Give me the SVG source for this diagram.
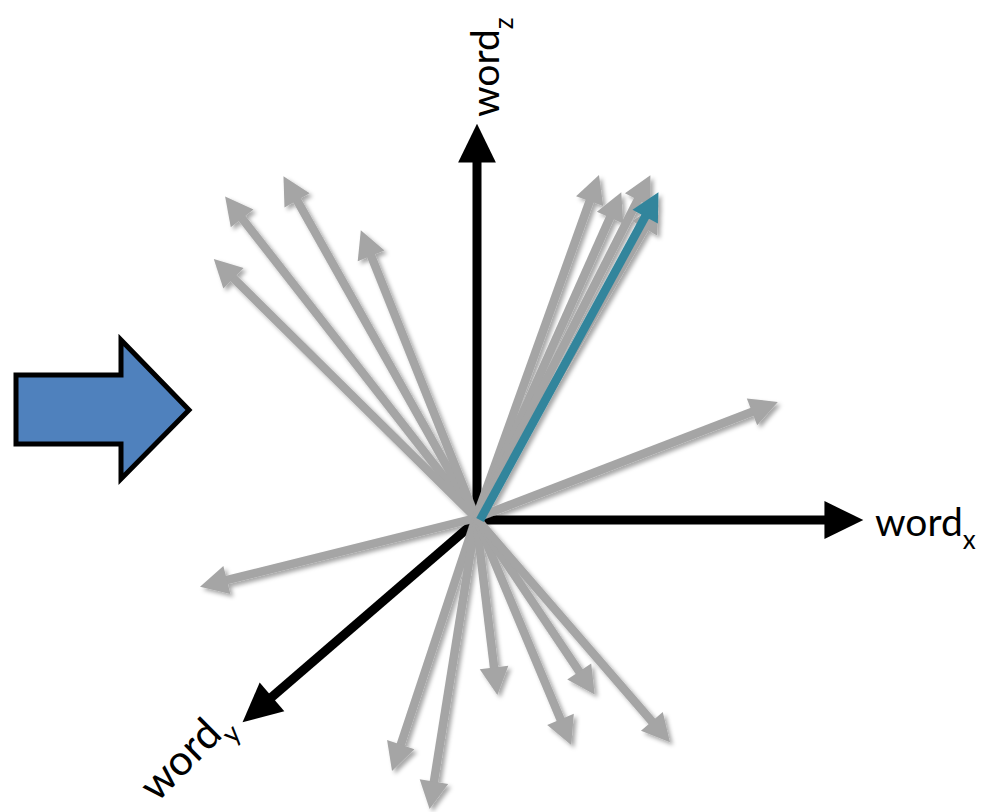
<svg xmlns="http://www.w3.org/2000/svg" width="1001" height="812" viewBox="0 0 1001 812">
<style>
.g{stroke:#a5a5a5;stroke-width:8.5;fill:none;marker-end:url(#hg)}
.k{stroke:#000;stroke-width:9;fill:none;marker-end:url(#hk)}
.b{stroke:#31859c;stroke-width:8.5;fill:none;marker-end:url(#hb)}
.lbl{font-family:Lato,"Open Sans","Liberation Sans",sans-serif;font-size:39px;fill:#000}
.sub{font-size:26px}
</style>
<defs>
<marker id="hg" markerUnits="userSpaceOnUse" orient="auto" refX="4" refY="0" markerWidth="30" markerHeight="30" viewBox="0 -13 26 26" overflow="visible"><path d="M0,-12.5 L24,0 L0,12.5 z" fill="#a5a5a5"/></marker>
<marker id="hb" markerUnits="userSpaceOnUse" orient="auto" refX="4" refY="0" markerWidth="30" markerHeight="30" viewBox="0 -13 26 26" overflow="visible"><path d="M0,-12.5 L24,0 L0,12.5 z" fill="#31859c"/></marker>
<marker id="hk" markerUnits="userSpaceOnUse" orient="auto" refX="5" refY="0" markerWidth="40" markerHeight="40" viewBox="0 -18 36 36" overflow="visible"><path d="M0,-17 L35,0 L0,17 z" fill="#000"/></marker>
<filter id="sh" x="-10%" y="-10%" width="120%" height="120%"><feDropShadow dx="3" dy="3" stdDeviation="2" flood-color="#000" flood-opacity="0.35"/></filter>
</defs>
<g id="bigArrow"><polygon points="16,375 121,375 121,340 189,410 121,479 121,444 16,444" fill="#4f81bd" stroke="#000" stroke-width="5"/></g>
<g id="axes">
<line class="k" x1="477" y1="522" x2="477" y2="157"/>
<line class="k" x1="474" y1="520" x2="830" y2="520"/>
<line class="k" x1="476" y1="521" x2="267.8" y2="700.5"/>
</g>
<g id="connectors" filter="url(#sh)">
<line class="g" x1="476" y1="518" x2="239.3" y2="214.8"/>
<line class="g" x1="476" y1="518" x2="294.8" y2="196.4"/>
<line class="g" x1="476" y1="518" x2="230.2" y2="275.1"/>
<line class="g" x1="476" y1="518" x2="369.4" y2="251.6"/>
<line class="g" x1="476" y1="518" x2="591.2" y2="196.8"/>
<line class="g" x1="476" y1="518" x2="611.9" y2="213.3"/>
<line class="g" x1="476" y1="518" x2="639.9" y2="195.8"/>
<line class="g" x1="476" y1="518" x2="646.9" y2="224.3"/>
<line class="g" x1="476" y1="518" x2="756.3" y2="410.2"/>
<line class="g" x1="476" y1="518" x2="222.4" y2="581.2"/>
<line class="g" x1="476" y1="518" x2="399.3" y2="749.0"/>
<line class="g" x1="476" y1="518" x2="433.2" y2="786.2"/>
<line class="g" x1="476" y1="518" x2="494.6" y2="672.1"/>
<line class="g" x1="476" y1="518" x2="562.3" y2="723.6"/>
<line class="g" x1="476" y1="518" x2="581.8" y2="675.4"/>
<line class="g" x1="476" y1="518" x2="654.9" y2="724.9"/>
<line class="b" x1="480" y1="520" x2="647.4" y2="212.6"/>
</g>
<g id="labelX"><text class="lbl" x="875" y="536">word<tspan class="sub" dy="13">x</tspan></text></g>
<g id="labelZ"><text class="lbl" transform="translate(499,117) rotate(-90)">word<tspan class="sub" dy="14">z</tspan></text></g>
<g id="labelY"><text class="lbl" transform="translate(157,803) rotate(-45)" style="font-size:42px">word<tspan class="sub" dy="13" style="font-size:27px">y</tspan></text></g>
</svg>
